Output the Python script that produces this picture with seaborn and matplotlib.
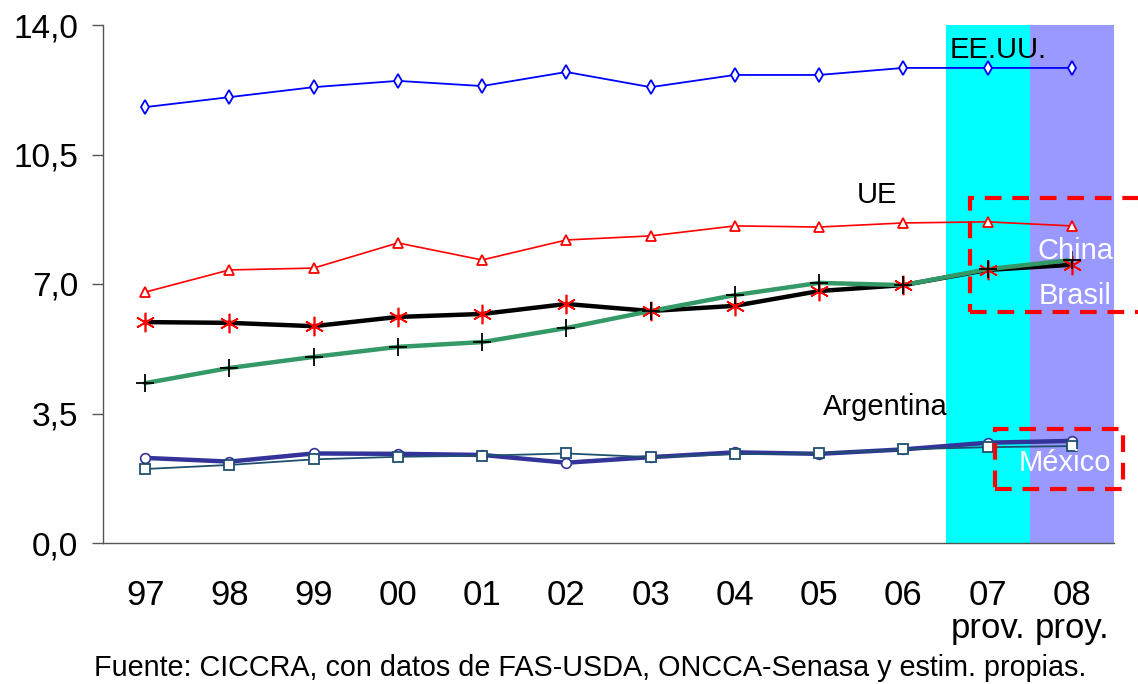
import numpy as np
import pandas as pd
import matplotlib
matplotlib.use("Agg")
import matplotlib.pyplot as plt
from matplotlib.patches import Rectangle
import seaborn as sns

# ── DATA ──────────────────────────────────────────────────────────────────────
years = ["97", "98", "99", "00", "01", "02", "03", "04", "05", "06", "07", "08"]
year_labels = ["97", "98", "99", "00", "01", "02", "03", "04", "05", "06",
               "07\nprov.", "08\nproy."]
eeuu      = [11.78, 12.05, 12.32, 12.49, 12.35, 12.73, 12.32, 12.65, 12.65, 12.84, 12.84, 12.84]
ue        = [6.78, 7.38, 7.43, 8.11, 7.65, 8.19, 8.30, 8.57, 8.54, 8.65, 8.68, 8.57]
china     = [5.97, 5.95, 5.86, 6.11, 6.19, 6.46, 6.27, 6.41, 6.81, 6.97, 7.38, 7.52]
brasil    = [4.32, 4.73, 5.03, 5.30, 5.43, 5.81, 6.27, 6.70, 7.03, 6.97, 7.40, 7.65]
argentina = [2.30, 2.20, 2.42, 2.41, 2.38, 2.17, 2.32, 2.45, 2.41, 2.53, 2.71, 2.76]
mexico    = [2.00, 2.11, 2.26, 2.33, 2.36, 2.42, 2.32, 2.40, 2.42, 2.53, 2.59, 2.62]
yticks = [0, 3.5, 7, 10.5, 14]

x = np.arange(len(years))

# ── STYLE ─────────────────────────────────────────────────────────────────────
sns.set_style("white")
plt.rcParams["font.family"] = ["Liberation Sans", "DejaVu Sans"]
plt.rcParams["text.color"] = "black"

fig = plt.figure(figsize=(11.38, 6.84), dpi=100)
ax = fig.add_axes([103 / 1138, 141 / 684, 1011 / 1138, 518 / 684])

# projected / provisional background bands
ax.axvspan(9.5, 10.5, color="#00FFFF", zorder=0, lw=0)
ax.axvspan(10.5, 11.5, color="#9999FF", zorder=0, lw=0)

# ── LINES ─────────────────────────────────────────────────────────────────────
sns.lineplot(x=x, y=eeuu, ax=ax, color="#0000FF", lw=1.3, marker="d", ms=7,
             mfc="white", mec="#0000FF", mew=1.3, zorder=3)
sns.lineplot(x=x, y=ue, ax=ax, color="#FF0000", lw=1.2, marker="^", ms=7,
             mfc="white", mec="#FF0000", mew=1.3, zorder=3)
sns.lineplot(x=x, y=china, ax=ax, color="black", lw=3.2, zorder=3)
sns.lineplot(x=x, y=brasil, ax=ax, color="#339966", lw=3.2, zorder=3)
sns.lineplot(x=x, y=china, ax=ax, lw=0, marker=(6, 2, 0), ms=14,
             mec="#FF0000", mew=1.2, zorder=4)
sns.lineplot(x=x, y=brasil, ax=ax, lw=0, marker="+", ms=13,
             mec="black", mew=1.3, zorder=4)
sns.lineplot(x=x, y=argentina, ax=ax, color="#333399", lw=3.2, marker="o", ms=7,
             mfc="white", mec="#333399", mew=1.2, zorder=3)
sns.lineplot(x=x, y=mexico, ax=ax, color="#1F4F6F", lw=1.3, marker="s", ms=7,
             mfc="white", mec="#1F4F6F", mew=1.3, zorder=3)

# ── HIGHLIGHT BOXES ───────────────────────────────────────────────────────────
for (x0, y0, w, h) in [(9.79, 6.24, 2.4, 3.08), (10.09, 1.46, 1.52, 1.62)]:
    ax.add_patch(Rectangle((x0, y0), w, h, fill=False, ec="#FF0000", lw=3,
                           ls=(0, (4, 2.6)), clip_on=False, zorder=6))

# ── LABELS ────────────────────────────────────────────────────────────────────
lab = dict(fontsize=21, zorder=7)
ax.text(9.55, 13.32, "EE.UU.", ha="left", va="center", color="black", **lab)
ax.text(8.69, 9.41, "UE", ha="center", va="center", color="black", **lab)
ax.text(8.79, 3.68, "Argentina", ha="center", va="center", color="black", **lab)
ax.text(11.04, 7.89, "China", ha="center", va="center", color="white", **lab)
ax.text(11.04, 6.68, "Brasil", ha="center", va="center", color="white", **lab)
ax.text(10.92, 2.16, "México", ha="center", va="center", color="white", **lab)

# ── AXES ──────────────────────────────────────────────────────────────────────
ax.set_xlim(-0.5, 11.5)
ax.set_ylim(0, 14)
ax.set_xticks(x)
ax.set_xticklabels(year_labels, fontsize=25, linespacing=1.0)
ax.set_xticks(np.arange(-0.5, 12, 1), minor=True)
ax.tick_params(axis="x", which="major", length=0, pad=26, labelcolor="black")
ax.tick_params(axis="x", which="minor", length=8, width=1, color="#555555",
               direction="out")
ax.set_yticks(yticks)
ax.set_yticklabels([f"{v:.1f}".replace(".", ",") for v in yticks], fontsize=24)
ax.tick_params(axis="y", length=8, width=1, color="#555555", direction="out",
               pad=10, left=True, labelcolor="black")
ax.set_xlabel("")
ax.set_ylabel("")
for side in ["top", "right"]:
    ax.spines[side].set_visible(False)
for side in ["left", "bottom"]:
    ax.spines[side].set_color("#555555")
    ax.spines[side].set_linewidth(1)

fig.text(590 / 1138, 1 - 676 / 684,
         "Fuente: CICCRA, con datos de FAS-USDA, ONCCA-Senasa y estim. propias.",
         ha="center", va="baseline", fontsize=20.7, color="black")

fig.savefig("out.png", dpi=100)
